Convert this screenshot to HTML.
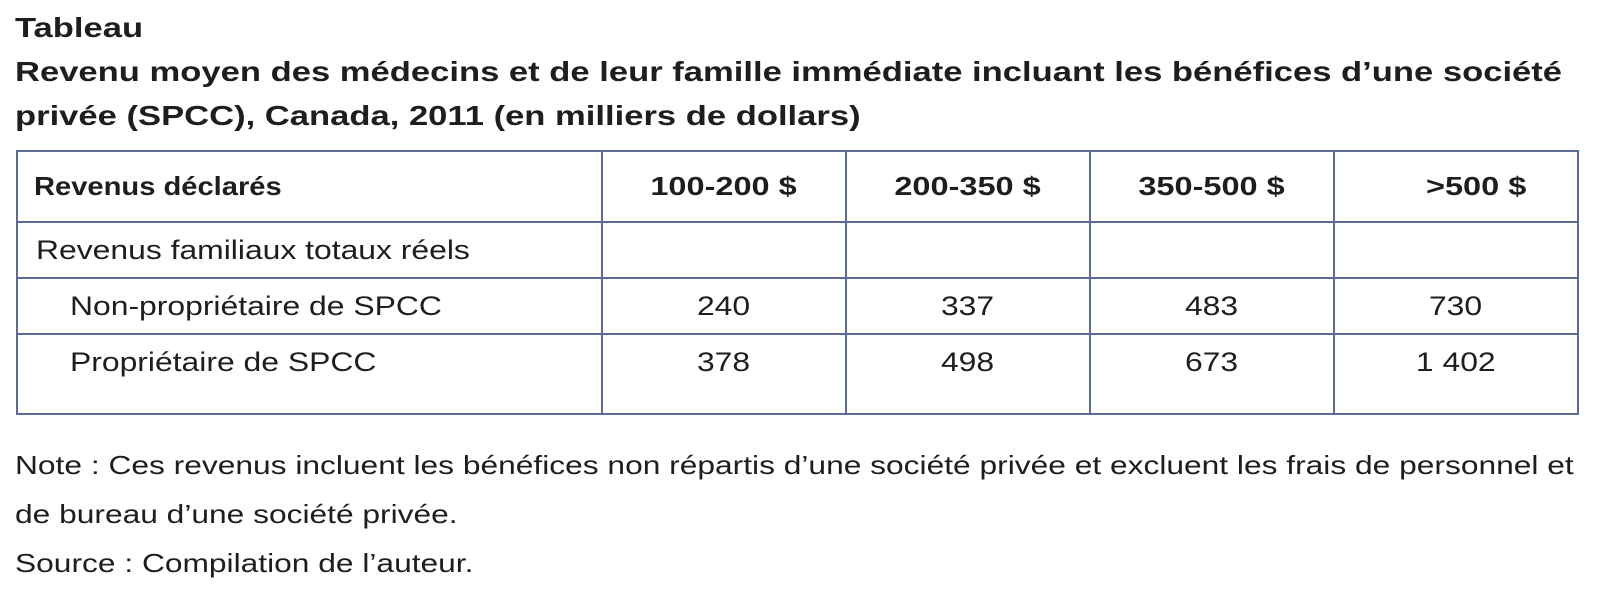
<!DOCTYPE html>
<html><head><meta charset="utf-8"><style>
body{margin:0;width:1616px;height:589px;background:#fff;font-family:"Liberation Sans",sans-serif;color:#1e1e1e;position:relative;overflow:hidden}
.t{position:absolute;left:15px;font-weight:bold;font-size:28px;white-space:nowrap;transform:scaleX(1.235);transform-origin:left}
table{position:absolute;left:16px;top:150px;border-collapse:collapse;width:1561px;table-layout:fixed}
td{border:2px solid #5b6b93;font-size:27px;padding:0;text-align:center}
td.l{text-align:left;padding-left:18px}
td.i{padding-left:52px}
th{border:2px solid #5b6b93;font-size:26px;font-weight:bold;text-align:center;padding:0}
.s{display:inline-block;transform:scaleX(1.18);white-space:nowrap}
.l .s{transform-origin:left}
.h{display:inline-block;transform:scaleX(1.25);white-space:nowrap}
.n{position:absolute;left:15px;font-size:26px;white-space:nowrap;transform:scaleX(1.22);transform-origin:left}
</style></head><body>
<div class="t" style="top:12px">Tableau</div>
<div class="t" style="top:56px">Revenu moyen des médecins et de leur famille immédiate incluant les bénéfices d’une société</div>
<div class="t" style="top:100px">privée (SPCC), Canada, 2011 (en milliers de dollars)</div>
<table>
<colgroup><col style="width:585px"><col style="width:244px"><col style="width:244px"><col style="width:244px"><col style="width:244px"></colgroup>
<tr style="height:71px"><th style="text-align:left;padding-left:16px"><span class="h" style="transform:scaleX(1.12);transform-origin:left">Revenus déclarés</span></th><th><span class="h">100-200 $</span></th><th><span class="h">200-350 $</span></th><th><span class="h">350-500 $</span></th><th style="padding-left:40px"><span class="h">&gt;500 $</span></th></tr>
<tr style="height:56px"><td class="l"><span class="s">Revenus familiaux totaux réels</span></td><td></td><td></td><td></td><td></td></tr>
<tr style="height:56px"><td class="l i"><span class="s">Non-propriétaire de SPCC</span></td><td><span class="s">240</span></td><td><span class="s">337</span></td><td><span class="s">483</span></td><td><span class="s">730</span></td></tr>
<tr style="height:80px;vertical-align:top"><td class="l i" style="padding-top:12px"><span class="s">Propriétaire de SPCC</span></td><td style="padding-top:12px"><span class="s">378</span></td><td style="padding-top:12px"><span class="s">498</span></td><td style="padding-top:12px"><span class="s">673</span></td><td style="padding-top:12px"><span class="s">1 402</span></td></tr>
</table>
<div class="n" style="top:450px">Note : Ces revenus incluent les bénéfices non répartis d’une société privée et excluent les frais de personnel et</div>
<div class="n" style="top:499px">de bureau d’une société privée.</div>
<div class="n" style="top:548px">Source : Compilation de l’auteur.</div>
</body></html>
